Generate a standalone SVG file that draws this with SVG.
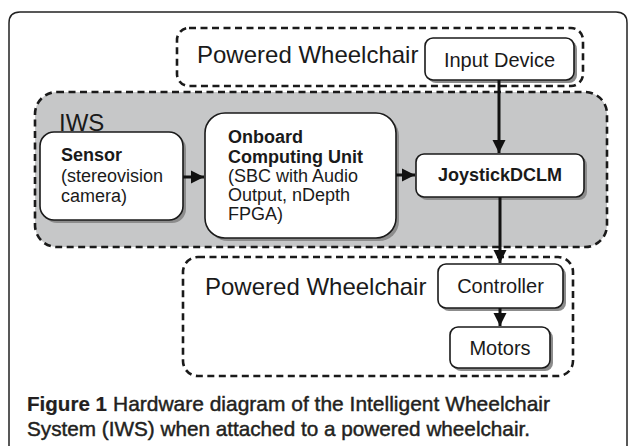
<svg xmlns="http://www.w3.org/2000/svg" width="629" height="446" viewBox="0 0 629 446">
<defs>
<style>
.frame{fill:none;stroke:#222;stroke-width:1.5}
.dash{stroke:#1a1a1a;stroke-width:2.6;stroke-dasharray:7 4.5}
.box{fill:#fff;stroke:#1a1a1a;stroke-width:1.6}
.shadow{fill:#8c8c8c}
.t{font-family:"Liberation Sans",Arial,sans-serif;fill:#1a1a1a}
.big{font-size:24px}
.mid{font-size:20px}
.sm{font-size:18px}
.b{font-weight:bold}
.c{text-anchor:middle}
.cap{font-family:"Liberation Sans",Arial,sans-serif;font-size:21px;fill:#231f20;stroke:#231f20;stroke-width:0.45}
.capb{font-weight:bold;stroke-width:0.2}
.conn{stroke:#111;stroke-width:3;fill:none}
</style>
<marker id="ah" viewBox="0 0 10 10" refX="10" refY="5" markerWidth="4.6" markerHeight="4.4" orient="auto" markerUnits="strokeWidth">
<path d="M0,0 L10,5 L0,10 Z" fill="#111"/>
</marker>
</defs>
<rect width="629" height="446" fill="#fff"/>
<path class="frame" d="M9,446 V23 Q9,12 20,12 H616 Q627,12 627,23 V446"/>

<g id="group-top-wheelchair">
<rect class="dash" x="177" y="28" width="406" height="58" rx="12" fill="none"/>
<text class="t big" x="197" y="63">Powered Wheelchair</text>
</g>

<g id="group-iws">
<rect class="dash" x="35" y="92" width="572" height="155" rx="22" fill="#c6c7c8"/>
<text class="t big" x="59" y="131">IWS</text>
</g>

<g id="group-bottom-wheelchair">
<rect class="dash" x="183" y="257" width="390" height="119" rx="15" fill="none"/>
<text class="t big" x="205" y="295">Powered Wheelchair</text>
</g>

<g id="node-input-device">
<rect class="shadow" x="428" y="41" width="149" height="42" rx="8"/>
<rect class="box" x="425" y="38" width="149" height="42" rx="8"/>
<text class="t mid c" x="499.5" y="67">Input Device</text>
</g>

<g id="node-sensor">
<rect class="shadow" x="43" y="135" width="143" height="88" rx="14"/>
<rect class="box" x="40" y="132" width="143" height="88" rx="14"/>
<text class="t sm b" x="61" y="161">Sensor</text>
<text class="t sm" x="61" y="182">(stereovision</text>
<text class="t sm" x="61" y="202">camera)</text>
</g>

<g id="node-onboard">
<rect class="shadow" x="208" y="116" width="191" height="125" rx="20"/>
<rect class="box" x="205" y="113" width="191" height="125" rx="20"/>
<text class="t sm b" x="228" y="143">Onboard</text>
<text class="t sm b" x="228" y="163">Computing Unit</text>
<text class="t sm" x="228" y="182">(SBC with Audio</text>
<text class="t sm" x="228" y="201">Output, nDepth</text>
<text class="t sm" x="228" y="220">FPGA)</text>
</g>

<g id="node-joystick">
<rect class="shadow" x="419" y="157" width="168" height="43" rx="8"/>
<rect class="box" x="416" y="154" width="168" height="43" rx="8"/>
<text class="t sm b c" x="500" y="181">JoystickDCLM</text>
</g>

<g id="node-controller">
<rect class="shadow" x="441" y="267" width="125" height="44" rx="8"/>
<rect class="box" x="438" y="264" width="125" height="44" rx="8"/>
<text class="t mid c" x="500.5" y="293">Controller</text>
</g>

<g id="node-motors">
<rect class="shadow" x="453" y="330" width="100" height="41" rx="8"/>
<rect class="box" x="450" y="327" width="100" height="41" rx="8"/>
<text class="t mid c" x="500" y="355">Motors</text>
</g>

<g id="connectors">
<line class="conn" x1="499" y1="80" x2="499" y2="153" marker-end="url(#ah)"/>
<line class="conn" x1="183" y1="177" x2="204" y2="177" marker-end="url(#ah)"/>
<line class="conn" x1="396" y1="175" x2="415" y2="175" marker-end="url(#ah)"/>
<line class="conn" x1="500" y1="197" x2="500" y2="263" marker-end="url(#ah)"/>
<line class="conn" x1="500" y1="308" x2="500" y2="326" marker-end="url(#ah)"/>
</g>

<g id="caption">
<text class="cap capb" x="27" y="411" textLength="80" lengthAdjust="spacingAndGlyphs">Figure 1</text>
<text class="cap" x="113" y="411" textLength="437" lengthAdjust="spacingAndGlyphs">Hardware diagram of the Intelligent Wheelchair</text>
<text class="cap" x="27" y="436" textLength="503" lengthAdjust="spacingAndGlyphs">System (IWS) when attached to a powered wheelchair.</text>
</g>
</svg>
